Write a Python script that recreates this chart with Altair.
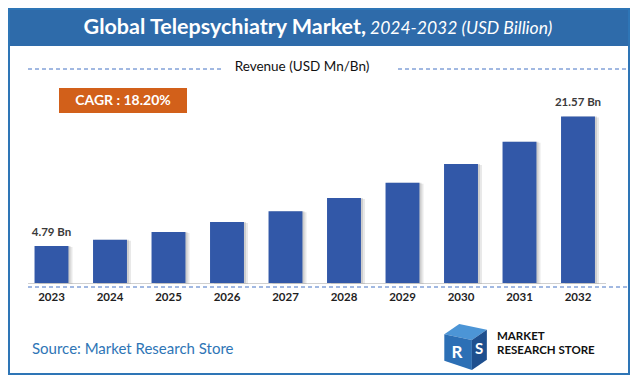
import altair as alt
import pandas as pd

# ---- data ----
years = ["2023", "2024", "2025", "2026", "2027", "2028", "2029", "2030", "2031", "2032"]
revenue = [4.79, 5.6, 6.6, 7.9, 9.3, 11.0, 13.0, 15.4, 18.3, 21.57]
bar_labels = ["4.79 Bn", "", "", "", "", "", "", "", "", "21.57 Bn"]

title_main = "Global Telepsychiatry Market,"
title_sub = "2024-2032 (USD Billion)"
legend_text = "Revenue (USD Mn/Bn)"
cagr_text = "CAGR : 18.20%"
source_text = "Source: Market Research Store"
logo_line1 = "MARKET"
logo_line2 = "RESEARCH STORE"

df = pd.DataFrame({"year": years, "value": revenue, "label": bar_labels})
one = pd.DataFrame({"k": [0]})

W, H = 622, 367
FONT = "Lato, Open Sans, sans-serif"

xscale = alt.Scale(range=[14.25, 599.25], paddingInner=0.42, paddingOuter=0.21)
yscale = alt.Scale(domain=[0, 35.62], range=[275, 0])

xenc = alt.X("year:N", scale=xscale, sort=years,
             axis=alt.Axis(title=None, orient="bottom", offset=-92, domain=False,
                           ticks=False, tickSize=0, labelPadding=8, labelFont=FONT,
                           labelFontSize=11.5, labelFontWeight="bold",
                           labelColor="#1f1f1f", labelAngle=0, grid=False))
yenc = alt.Y("value:Q", scale=yscale, axis=None)

base = alt.Chart(df)

shadow1 = base.mark_bar(color="#808080", opacity=0.18, xOffset=4, yOffset=1).encode(x=xenc, y=yenc)
shadow2 = base.mark_bar(color="#808080", opacity=0.25, xOffset=2, yOffset=0).encode(x=xenc, y=yenc)
bars = base.mark_bar(color="#3258A8").encode(x=xenc, y=yenc)
labels = base.mark_text(dy=-13, font=FONT, fontSize=11.5, fontWeight="bold",
                        color="#3a3a3a").encode(x=xenc, y=yenc, text="label:N")

deco = alt.Chart(one)

border = deco.mark_rect(filled=False, stroke="#2E75B6", strokeWidth=2).encode(
    x=alt.value(1), x2=alt.value(W - 1), y=alt.value(1), y2=alt.value(H - 1))
band = deco.mark_rect(color="#2E6BAA").encode(
    x=alt.value(0), x2=alt.value(W), y=alt.value(0), y2=alt.value(38))
t1 = deco.mark_text(align="right", baseline="middle", font=FONT, fontSize=21.5,
                    fontWeight="bold", color="white").encode(
    x=alt.value(358), y=alt.value(19.5), text=alt.value(title_main))
t2 = deco.mark_text(align="left", baseline="middle", font=FONT, fontSize=17.5,
                    fontStyle="italic", color="white").encode(
    x=alt.value(362), y=alt.value(21), text=alt.value(title_sub))

dash_l = deco.mark_rule(color="#4472C4", strokeDash=[4, 3], strokeWidth=1).encode(
    x=alt.value(20), x2=alt.value(214), y=alt.value(61))
dash_r = deco.mark_rule(color="#4472C4", strokeDash=[4, 3], strokeWidth=1).encode(
    x=alt.value(390), x2=alt.value(619), y=alt.value(61))
legend = deco.mark_text(align="center", baseline="middle", font=FONT, fontSize=13.5,
                        color="#111111").encode(
    x=alt.value(294), y=alt.value(59), text=alt.value(legend_text))

cagr_box = deco.mark_rect(color="#D2601A").encode(
    x=alt.value(51), x2=alt.value(179), y=alt.value(80), y2=alt.value(105))
cagr = deco.mark_text(align="center", baseline="middle", font=FONT, fontSize=14,
                      fontWeight="bold", color="white").encode(
    x=alt.value(115), y=alt.value(93), text=alt.value(cagr_text))

baseline = deco.mark_rule(color="#D0D0D0", strokeWidth=1.2).encode(
    x=alt.value(20), x2=alt.value(598), y=alt.value(275.5))
dash_b = deco.mark_rule(color="#4472C4", strokeDash=[4, 3], strokeWidth=1).encode(
    x=alt.value(20), x2=alt.value(619), y=alt.value(279))

source = deco.mark_text(align="left", baseline="middle", font=FONT, fontSize=15,
                        color="#2E75B6").encode(
    x=alt.value(24), y=alt.value(341), text=alt.value(source_text))

# logo cube
top_face = "M -0.9 -0.55 L -0.25 -1 L 0.95 -0.75 L 0.3 -0.3 Z"
left_face = "M -0.9 -0.55 L 0.3 -0.3 L 0.3 1 L -0.9 0.6 Z"
right_face = "M 0.3 -0.3 L 0.95 -0.75 L 0.95 0.55 L 0.3 1 Z"
cube = []
for path, col in [(top_face, "#4C95D6"), (left_face, "#2C6FB5"), (right_face, "#1E4F8E")]:
    cube.append(deco.mark_point(shape=path, filled=True, color=col, opacity=1,
                                strokeWidth=0).encode(
        x=alt.value(457), y=alt.value(339), size=alt.value(2116)))
logo_r = deco.mark_text(align="center", baseline="middle", font=FONT, fontSize=17,
                        fontWeight="bold", color="white").encode(
    x=alt.value(449), y=alt.value(345), text=alt.value("R"))
logo_s = deco.mark_text(align="center", baseline="middle", font=FONT, fontSize=15,
                        fontWeight="bold", color="white").encode(
    x=alt.value(471), y=alt.value(341), text=alt.value("S"))
l1 = deco.mark_text(align="left", baseline="middle", font=FONT, fontSize=11.5,
                    fontWeight="bold", color="#111111").encode(
    x=alt.value(489), y=alt.value(329), text=alt.value(logo_line1))
l2 = deco.mark_text(align="left", baseline="middle", font=FONT, fontSize=11.5,
                    fontWeight="bold", color="#111111").encode(
    x=alt.value(489), y=alt.value(343), text=alt.value(logo_line2))

chart = alt.layer(
    band, border, dash_l, dash_r, legend, cagr_box, cagr, baseline, dash_b,
    shadow1, shadow2, bars, labels, t1, t2, source, *cube, logo_r, logo_s, l1, l2
).properties(
    width=W, height=H, padding=0, autosize=alt.AutoSizeParams(type="none"),
    background="white"
).configure_view(stroke=None)

chart.save("out.html", embed_options={"renderer": "svg", "actions": False})
